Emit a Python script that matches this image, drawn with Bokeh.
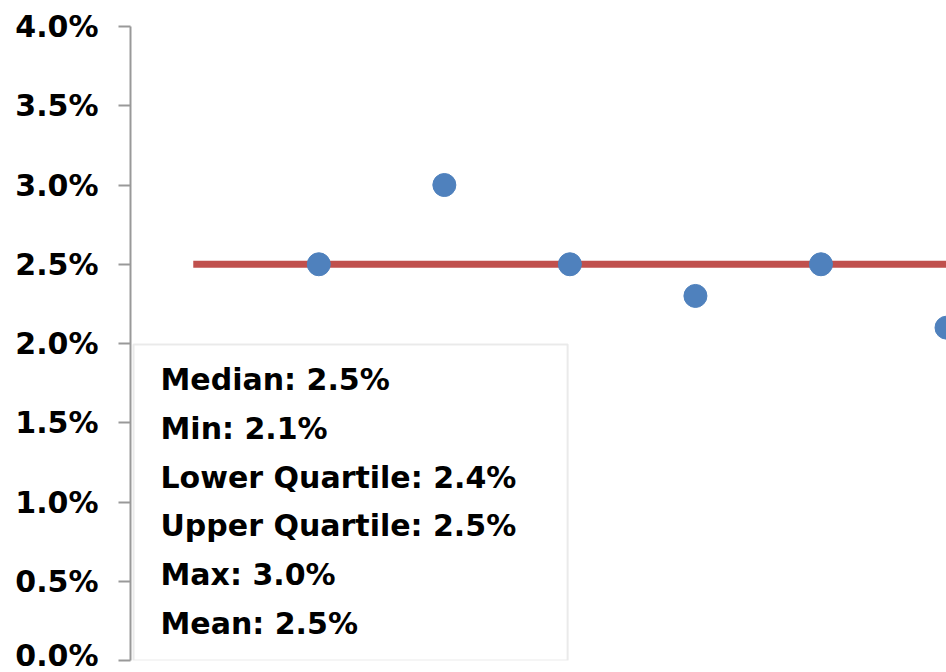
from bokeh.plotting import figure
from bokeh.models import Range1d, NumeralTickFormatter, FixedTicker, BoxAnnotation, Label
from bokeh.embed import file_html
from bokeh.resources import INLINE

# ---- data ----
positions = [1, 2, 3, 4, 5, 6]
values = [0.025, 0.030, 0.025, 0.023, 0.025, 0.021]
median_value = 0.025
y_ticks = [0.0, 0.005, 0.010, 0.015, 0.020, 0.025, 0.030, 0.035, 0.040]
stat_lines = [
    "Median: 2.5%",
    "Min: 2.1%",
    "Lower Quartile: 2.4%",
    "Upper Quartile: 2.5%",
    "Max: 3.0%",
    "Mean: 2.5%",
]

FONT = "DejaVu Sans"
FS = "30px"

p = figure(width=946, height=672, output_backend="svg", toolbar_location=None,
           x_range=Range1d(-0.5, 6.0), y_range=Range1d(0.0, 0.040),
           min_border_left=130, min_border_right=0, min_border_top=26, min_border_bottom=12)
p.outline_line_color = None
p.xgrid.visible = False
p.ygrid.visible = False
p.xaxis.visible = False
p.background_fill_color = "white"
p.border_fill_color = "white"

ya = p.yaxis[0]
ya.ticker = FixedTicker(ticks=y_ticks)
ya.formatter = NumeralTickFormatter(format="0.0%")
ya.axis_line_color = "#999999"
ya.axis_line_width = 2
ya.major_tick_line_color = "#999999"
ya.major_tick_line_width = 2
ya.major_tick_out = 12
ya.major_tick_in = 0
ya.minor_tick_line_color = None
ya.major_label_standoff = 20
ya.major_label_text_font = FONT
ya.major_label_text_font_style = "bold"
ya.major_label_text_font_size = FS
ya.major_label_text_color = "black"

# median line
n = len(values)
p.line([0, n + 1], [median_value, median_value], line_color="#C0504D", line_width=7)

# points
p.scatter(positions, values, size=23, fill_color="#4F81BD", line_color="#4F81BD")

# statistics box
box = BoxAnnotation(left=-0.476, right=2.982, bottom=0.0, top=0.01994,
                    fill_color="white", fill_alpha=1.0,
                    line_color="#B8B8B8", line_width=2)
p.add_layout(box)

y0 = 0.01773
dy = 0.003079
for i, s in enumerate(stat_lines):
    p.add_layout(Label(x=-0.261, y=y0 - i * dy, text=s, text_font=FONT,
                       text_font_style="bold", text_font_size=FS,
                       text_baseline="middle", text_color="black"))

open("out.html", "w").write(file_html(p, INLINE))
